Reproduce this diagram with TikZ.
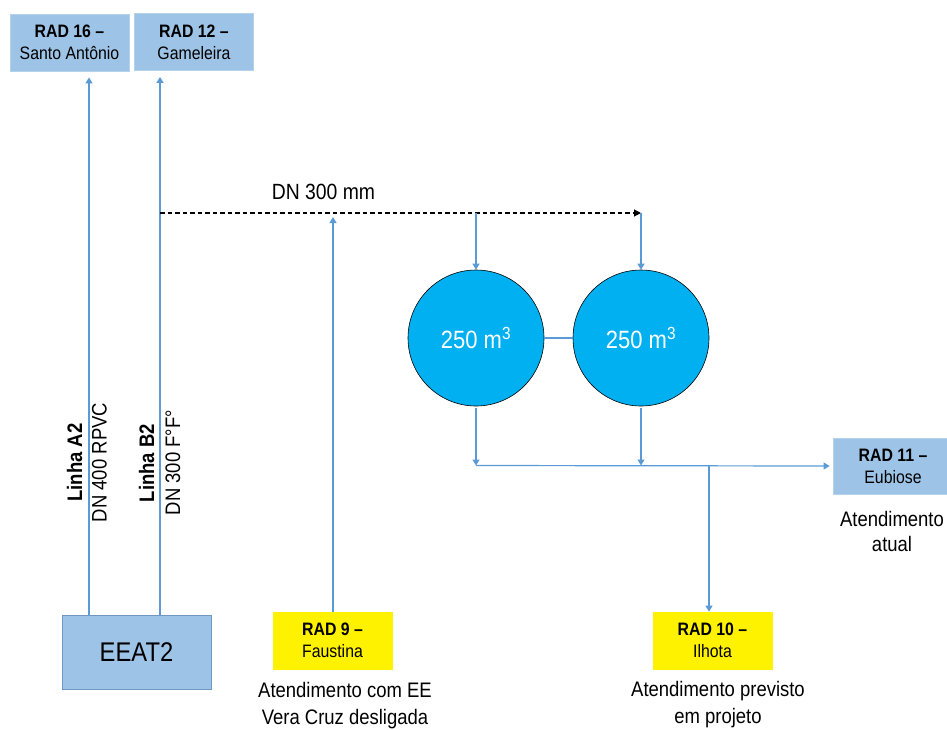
\documentclass[tikz,border=0pt]{standalone}
\usepackage{fontspec}
\setmainfont{Liberation Sans}[FakeStretch=0.88]
\usetikzlibrary{arrows.meta}
\definecolor{boxblue}{HTML}{9DC3E6}
\definecolor{lineblue}{HTML}{5B9BD5}
\definecolor{tankblue}{HTML}{00B0F0}
\definecolor{edgeblue}{HTML}{7096C4}
\begin{document}
\begin{tikzpicture}[x=1pt,y=-1pt,
  arr/.style={draw=lineblue, line width=1.2pt, -{Triangle[width=7pt,length=6pt]}},
  pipe/.style={draw=lineblue, line width=1.2pt},
  radbox/.style={fill=boxblue, draw=boxblue!75!white, line width=0.8pt, minimum width=119pt, minimum height=57pt, inner sep=0pt, align=center, font=\fontsize{18}{22}\selectfont},
  yelbox/.style={radbox, fill=yellow, draw=yellow},
  tank/.style={circle, fill=tankblue, draw=black, line width=0.6pt, minimum size=136pt, inner sep=0pt, text=white, font=\fontsize{25}{25}\selectfont},
  note/.style={align=center, inner sep=0pt, font=\fontsize{21}{27}\selectfont},
  vlabel/.style={rotate=90, inner sep=0pt, font=\fontsize{21}{21}\selectfont},
  dashline/.style={draw=black, line width=1.1pt, dash pattern=on 4.5pt off 3pt, -{Triangle[width=7pt,length=7pt]}}
]
\useasboundingbox (0,0) rectangle (947,729);

% boxes
\node[radbox] (rad16) at (69.5,42.5) {\textbf{RAD 16 –}\\Santo Antônio};
\node[radbox] (rad12) at (194,42) {\textbf{RAD 12 –}\\Gameleira};
\node[fill=boxblue, draw=edgeblue, line width=1pt, minimum width=149pt, minimum height=74pt, inner sep=0pt, font=\fontsize{27}{27}\selectfont] (eeat) at (136.5,652) {EEAT2};
\node[yelbox] (rad9) at (332.5,640.5) {\textbf{RAD 9 –}\\Faustina};
\node[yelbox] (rad10) at (712.5,640.5) {\textbf{RAD 10 –}\\Ilhota};
\node[radbox, minimum width=120pt, minimum height=56pt] (rad11) at (893,466) {\textbf{RAD 11 –}\\Eubiose};

% tanks
\node[tank] (t1) at (476,338) {250 m\textsuperscript{3}};
\node[tank] (t2) at (641,338) {250 m\textsuperscript{3}};

% notes
\node[note] (n9) at (345,705.5) {Atendimento com EE\\Vera Cruz desligada};
\node[note] (n10) at (718,705) {Atendimento previsto\\em projeto};
\node[note, font=\fontsize{21}{25}\selectfont] (n11) at (892,531) {Atendimento\\atual};
\node[inner sep=0pt, font=\fontsize{22}{22}\selectfont] (dnlab) at (323.5,192) {DN 300 mm};

% vertical labels
\node[vlabel, font=\fontsize{21}{21}\selectfont\bfseries] (la2) at (74.5,462.5) {Linha A2};
\node[vlabel] (da2) at (99.5,462.5) {DN 400 RPVC};
\node[vlabel, font=\fontsize{21}{21}\selectfont\bfseries] (lb2) at (146.5,463) {Linha B2};
\node[vlabel] (db2) at (173,462.5) {DN 300 F°F°};

% junction coordinates
\coordinate (xa2) at (89,400);
\coordinate (xb2) at (160,400);
\coordinate (jb) at (160,213);
\coordinate (jm) at (333,213);
\coordinate (j1) at (476,213);
\coordinate (j2) at (641,213);
\coordinate (h1) at (476,465.5);
\coordinate (h2) at (641,465.5);
\coordinate (h3) at (709,465.5);

% connectors
\draw[arr, shorten >=6pt] (eeat.north -| xa2) -- (rad16.south -| xa2);
\draw[arr, shorten >=6pt] (eeat.north -| xb2) -- (rad12.south -| xb2);
\draw[dashline] (jb) -- (j2);
\draw[arr, shorten >=4pt] (rad9.north -| jm) -- (jm);
\draw[arr] (j1) -- (t1.north);
\draw[arr] (j2) -- (t2.north);
\draw[pipe] (t1.east) -- (t2.west);
\draw[arr, shorten <=2pt] (t1.south) -- (h1);
\draw[arr, shorten <=2pt] (t2.south) -- (h2);
\draw[arr, shorten >=3pt] (h1) -- (rad11.west);
\draw[arr] (h3) -- (rad10.north -| h3);
\end{tikzpicture}
\end{document}
